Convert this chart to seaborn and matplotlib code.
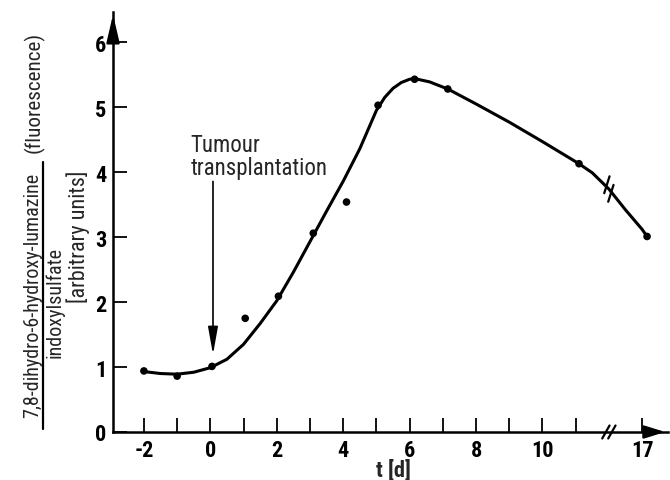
import numpy as np
import pandas as pd
import matplotlib
matplotlib.use("Agg")
import matplotlib.pyplot as plt
import seaborn as sns
from matplotlib.lines import Line2D
from matplotlib import font_manager

# ------------------------------
# data
# ------------------------------
# measured points (day, ratio)
point_days = [-2, -1, 0.05, 1.05, 2.05, 3.1, 4.1, 5.05, 6.15, 7.15, 11.1, 17.15]
point_vals = [0.94, 0.86, 1.01, 1.75, 2.09, 3.06, 3.54, 5.03, 5.43, 5.28, 4.13, 3.01]

# hand drawn fit curve (day, ratio)
curve_days = [-2, -1.5, -1, -0.5, 0, 0.5, 1, 1.5, 2, 2.5, 3, 3.5, 4, 4.5, 5,
              5.25, 5.5, 5.75, 6, 6.15, 6.6, 7.15, 8, 9, 10, 11.1, 11.5, 12,
              16.5, 17, 17.15]
curve_vals = [0.93, 0.90, 0.89, 0.92, 0.99, 1.12, 1.35, 1.67, 2.02, 2.46, 2.93, 3.40, 3.86, 4.36, 4.95,
              5.15, 5.29, 5.38, 5.43, 5.44, 5.39, 5.28, 5.05, 4.77, 4.47, 4.13, 3.99, 3.74,
              3.42, 3.12, 3.01]

tick_days = [-2, -1, 0, 1, 2, 3, 4, 5, 6, 7, 8, 9, 10, 11, 17]
tick_labels = ["-2", "", "0", "", "2", "", "4", "", "6", "", "8", "", "10", "", "17"]
y_ticks = [0, 1, 2, 3, 4, 5, 6]

BREAK_AT = 12   # axis is cut between day 12 and day 16
GAP = 4


def to_axis(d):
    # broken axis: days after the cut are shifted left
    return d if d <= BREAK_AT else d - GAP


points = pd.DataFrame({"x": [to_axis(d) for d in point_days], "y": point_vals})
curve = pd.DataFrame({"x": [to_axis(d) for d in curve_days], "y": curve_vals})

# pick a narrow face if one is installed
names = {f.name for f in font_manager.fontManager.ttflist}
narrow = [n for n in ["Liberation Sans Narrow", "Roboto Condensed", "Open Sans Condensed",
                      "DejaVu Sans Condensed"] if n in names]
condensed_dejavu = any(f.name == "DejaVu Sans" and f.stretch == "condensed"
                       for f in font_manager.fontManager.ttflist)

# ------------------------------
# figure
# ------------------------------
sns.set_style("ticks")
plt.rcParams["font.family"] = narrow + ["DejaVu Sans"]
if not narrow and condensed_dejavu:
    plt.rcParams["font.stretch"] = "condensed"
shrink = 1.0 if (narrow or condensed_dejavu) else 0.8

fig = plt.figure(figsize=(6.7, 4.81), dpi=100)
ax = fig.add_axes([0.1687, 0.0998, 0.997 - 0.1687, 0.9736 - 0.0998])

sns.lineplot(data=curve, x="x", y="y", color="black", linewidth=2.2,
             sort=False, estimator=None, ax=ax)
sns.scatterplot(data=points, x="x", y="y", color="black", s=30,
                edgecolor="none", ax=ax, zorder=3)

ax.set_xlim(-2.93, 13.78)
ax.set_ylim(0, 6.47)

ax.set_xticks([to_axis(d) for d in tick_days])
ax.set_xticklabels(tick_labels)
ax.set_yticks(y_ticks)
ax.set_yticklabels([str(v) for v in y_ticks])
ax.tick_params(direction="in", length=10, width=1.3, pad=5,
               labelsize=16 * shrink, colors="black")
for lab in ax.get_xticklabels() + ax.get_yticklabels():
    lab.set_fontweight("bold")

sns.despine(ax=ax)
for side in ["left", "bottom"]:
    ax.spines[side].set_linewidth(1.8)
    ax.spines[side].set_color("black")

ax.set_xlabel("t [d]", fontsize=16 * shrink, fontweight="bold")
ax.xaxis.set_label_coords((393 - 113) / 555, -38 / 421)
ax.xaxis.label.set_va("center")
ax.set_ylabel("")

# arrow heads at the ends of the axes
ax.annotate("", xy=(1.0, 0), xytext=(0.95, 0), xycoords="axes fraction",
            arrowprops=dict(arrowstyle="-|>,head_length=0.9,head_width=0.28",
                            color="black", lw=1.8, mutation_scale=14))
ax.annotate("", xy=(0, 1.0), xytext=(0, 0.95), xycoords="axes fraction",
            arrowprops=dict(arrowstyle="-|>,head_length=1.2,head_width=0.28",
                            color="black", lw=1.8, mutation_scale=14))

# break marks on the x axis
for off in (-0.09, 0.09):
    cx = BREAK_AT + off
    ax.plot([cx - 0.11, cx + 0.11], [-0.1, 0.1], color="black", lw=1.6,
            clip_on=False, zorder=4)

# break marks on the curve
bx = to_axis(BREAK_AT)
by = curve_vals[curve_days.index(BREAK_AT)]
for off in (-0.06, 0.06):
    cx, cy = bx + off, by - off * 1.1
    ax.plot([cx - 0.08, cx + 0.08], [cy - 0.13, cy + 0.13], color="black",
            lw=1.6, zorder=4)

# annotation
ax.text(-0.6, 4.6, "Tumour\ntransplantation", fontsize=16.5 * shrink, va="top", ha="left",
        linespacing=1.0)
ax.annotate("", xy=(0.08, 1.15), xytext=(0.08, 3.9),
            arrowprops=dict(arrowstyle="-|>,head_length=1.4,head_width=0.25",
                            color="black", lw=1.2, mutation_scale=12))

# y label as a fraction
ysize = 14.5 if (narrow or condensed_dejavu) else 11
fig.text(33 / 670, 1 - 295 / 481, "7,8-dihydro-6-hydroxy-lumazine", rotation=90,
         fontsize=ysize, ha="center", va="center")
fig.add_artist(Line2D([43 / 670, 43 / 670], [1 - 430 / 481, 1 - 163 / 481],
                      color="black", lw=1.6))
fig.text(55 / 670, 1 - 302 / 481, "indoxylsulfate", rotation=90,
         fontsize=ysize, ha="center", va="center")
fig.text(34 / 670, 1 - 92 / 481, "(fluorescence)", rotation=90,
         fontsize=ysize * 1.05, ha="center", va="center")
fig.text(78 / 670, 1 - 237 / 481, "[arbitrary units]", rotation=90,
         fontsize=ysize * 1.1, ha="center", va="center")

plt.savefig("out.png", dpi=100)
